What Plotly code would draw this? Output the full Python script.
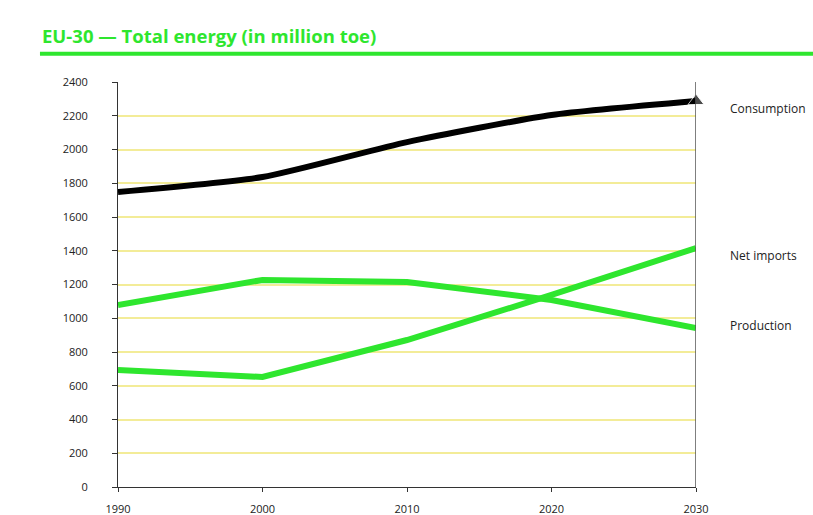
import plotly.graph_objects as go

years = [1990, 2000, 2010, 2020, 2030]
x_tick_labels = ["1990", "2000", "2010", "2020", "2030"]
consumption = [1748, 1837, 2044, 2204, 2287]
production = [1078, 1227, 1215, 1108, 942]
net_imports = [693, 652, 871, 1138, 1416]
y_ticks = list(range(0, 2401, 200))

GREEN = "#2ee62e"

fig = go.Figure()
fig.add_trace(go.Scatter(x=years, y=production, mode="lines",
                         line=dict(color=GREEN, width=6), name="Production"))
fig.add_trace(go.Scatter(x=years, y=net_imports, mode="lines",
                         line=dict(color=GREEN, width=6), name="Net imports"))
fig.add_trace(go.Scatter(x=years, y=consumption, mode="lines+markers",
                         line=dict(color="#000000", width=6, shape="spline", smoothing=0.6),
                         marker=dict(symbol="triangle-up", size=[0, 0, 0, 0, 14], color="#000000"),
                         cliponaxis=False, name="Consumption"))

label_shifts = {"Consumption": -7, "Net imports": -7, "Production": 3}
for name, vals in [("Consumption", consumption), ("Net imports", net_imports), ("Production", production)]:
    fig.add_annotation(x=years[-1], y=vals[-1], text=name, showarrow=False,
                       xanchor="left", xshift=32, yshift=label_shifts[name],
                       font=dict(family="Open Sans", size=12, color="#222222"))

fig.add_annotation(xref="paper", yref="paper", x=-0.135, y=1.115, text="<b>EU-30 — Total energy (in million toe)</b>",
                   showarrow=False, xanchor="left", yanchor="middle",
                   font=dict(family="Open Sans", size=18.5, color=GREEN))
fig.add_shape(type="line", xref="paper", yref="paper", x0=-0.135, x1=1.21, y0=1.07, y1=1.07,
              line=dict(color=GREEN, width=4))

fig.update_layout(
    width=813, height=515,
    margin=dict(l=118, r=117, t=82, b=28),
    plot_bgcolor="white", paper_bgcolor="white",
    showlegend=False,
    xaxis=dict(range=[1990, 2030], tickvals=years, ticktext=x_tick_labels,
               showgrid=False, zeroline=False, showline=True, linecolor="#333333",
               mirror=False, ticks="outside", ticklen=4, tickcolor="#333333",
               ticklabelstandoff=8, automargin=False,
               tickfont=dict(family="Open Sans", size=11, color="#222222")),
    yaxis=dict(range=[0, 2400], tickvals=y_ticks, automargin=False,
               showgrid=True, gridcolor="#f3ec98", gridwidth=2, zeroline=False,
               showline=True, linecolor="#333333", ticks="outside", ticklen=5,
               tickcolor="#333333", ticklabelstandoff=22,
               tickfont=dict(family="Open Sans", size=11, color="#222222")),
)
fig.add_shape(type="line", xref="x", yref="paper", x0=2030, x1=2030, y0=0, y1=1,
              line=dict(color="#555555", width=1.5))

fig.write_html("out.html")
